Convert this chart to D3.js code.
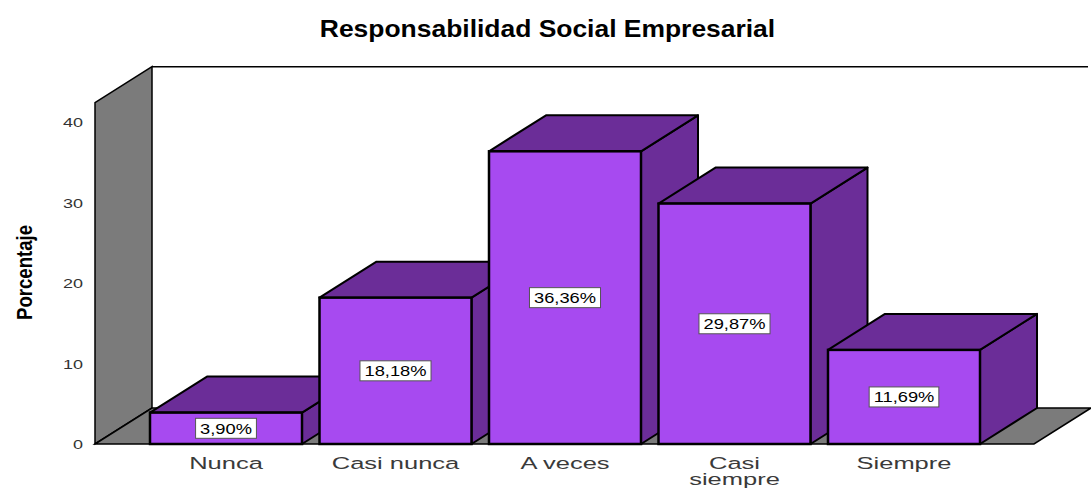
<!DOCTYPE html>
<html>
<head>
<meta charset="utf-8">
<script src="https://cdn.jsdelivr.net/npm/d3@7/dist/d3.min.js"></script>
<style>
body{margin:0;background:#fff;}
svg{display:block;}
text{font-family:"Liberation Sans",Arial,sans-serif;}
</style>
</head>
<body>
<svg id="chart" width="1091" height="490"></svg>
<script>
const categories = ["Nunca", "Casi nunca", "A veces", "Casi siempre", "Siempre"];
const categoryLines = [["Nunca"], ["Casi nunca"], ["A veces"], ["Casi", "siempre"], ["Siempre"]];
const values = [3.90, 18.18, 36.36, 29.87, 11.69];
const valueLabels = ["3,90%", "18,18%", "36,36%", "29,87%", "11,69%"];
const yTicks = [0, 10, 20, 30, 40];

const svg = d3.select("#chart");
const DX = 57, DY = -36;          // depth offset
const frontLeft = 95, frontRight = 1034;
const yMaxWall = 42.4;

const x = d3.scaleBand().domain(categories).range([141.25, 988.75]).paddingInner(0.1032).paddingOuter(0.0516);
const y = d3.scaleLinear().domain([0, 40]).range([444, 122]);

const front = "#a74af0", dark = "#6b2d98", gray = "#7b7b7b";

// horizontally stretched text helper
function stext(sel, px, py, sx, anchor) {
  return sel.append("text")
    .attr("transform", `translate(${px},${py}) scale(${sx},1)`)
    .attr("x", 0).attr("y", 0).attr("text-anchor", anchor || "middle");
}

// title
stext(svg, 547.5, 37, 1.15).attr("font-size", 23).attr("font-weight", "bold").attr("fill", "#000")
  .text("Responsabilidad Social Empresarial");

const y0 = y(0), yTop = y(yMaxWall);
// back wall top line
svg.append("line").attr("x1", frontLeft + DX).attr("y1", yTop + DY).attr("x2", 1088).attr("y2", yTop + DY)
  .attr("stroke", "#000").attr("stroke-width", 1.5);
// left wall
svg.append("polygon")
  .attr("points", [[frontLeft, yTop], [frontLeft + DX, yTop + DY], [frontLeft + DX, y0 + DY], [frontLeft, y0]].join(" "))
  .attr("fill", gray).attr("stroke", "#000").attr("stroke-width", 1.5);
// floor
svg.append("polygon")
  .attr("points", [[frontLeft, y0], [frontLeft + DX, y0 + DY], [frontRight + DX, y0 + DY], [frontRight, y0]].join(" "))
  .attr("fill", gray).attr("stroke", "#000").attr("stroke-width", 1.5);

// y ticks
const tg = svg.append("g");
yTicks.forEach(d => {
  stext(tg, 83, y(d) + 5, 1.5, "end").attr("font-size", 12).attr("fill", "#333").text(d);
});

// y axis title
svg.append("text").attr("transform", "translate(32,272.5) rotate(-90)")
  .attr("text-anchor", "middle").attr("font-size", 22).attr("font-weight", "bold")
  .attr("font-family", "'Liberation Sans Narrow','Arial Narrow',sans-serif")
  .attr("textLength", 95).attr("lengthAdjust", "spacingAndGlyphs")
  .attr("fill", "#000").text("Porcentaje");

// bars
const bars = svg.append("g");
categories.forEach((c, i) => {
  const x0 = x(c), x1 = x(c) + x.bandwidth();
  const yt = y(values[i]);
  const g = bars.append("g");
  g.append("polygon")
    .attr("points", [[x1, yt], [x1 + DX, yt + DY], [x1 + DX, y0 + DY], [x1, y0]].join(" "))
    .attr("fill", dark).attr("stroke", "#000").attr("stroke-width", 2).attr("stroke-linejoin", "round");
  g.append("polygon")
    .attr("points", [[x0, yt], [x0 + DX, yt + DY], [x1 + DX, yt + DY], [x1, yt]].join(" "))
    .attr("fill", dark).attr("stroke", "#000").attr("stroke-width", 2).attr("stroke-linejoin", "round");
  g.append("rect").attr("x", x0).attr("y", yt).attr("width", x.bandwidth()).attr("height", y0 - yt)
    .attr("fill", front).attr("stroke", "#000").attr("stroke-width", 2.5);
  const cx = x0 + x.bandwidth() / 2, cy = (yt + y0) / 2;
  const lbl = g.append("g");
  const sx = 1.22;
  const t = stext(lbl, cx, cy + 5.5, sx).attr("font-size", 15).attr("fill", "#000").text(valueLabels[i]);
  const w = t.node().getComputedTextLength() * sx;
  lbl.insert("rect", "text").attr("x", cx - w / 2 - 4.5).attr("y", cy - 10).attr("width", w + 9).attr("height", 20)
    .attr("fill", "#fff").attr("stroke", "#555").attr("stroke-width", 1);
});

// x labels
const xl = svg.append("g");
categories.forEach((c, i) => {
  const cx = x(c) + x.bandwidth() / 2;
  categoryLines[i].forEach((ln, k) => {
    stext(xl, cx, 469 + k * 16, 1.5).attr("font-size", 17).attr("fill", "#3a3a3a").text(ln);
  });
});
</script>
</body>
</html>
